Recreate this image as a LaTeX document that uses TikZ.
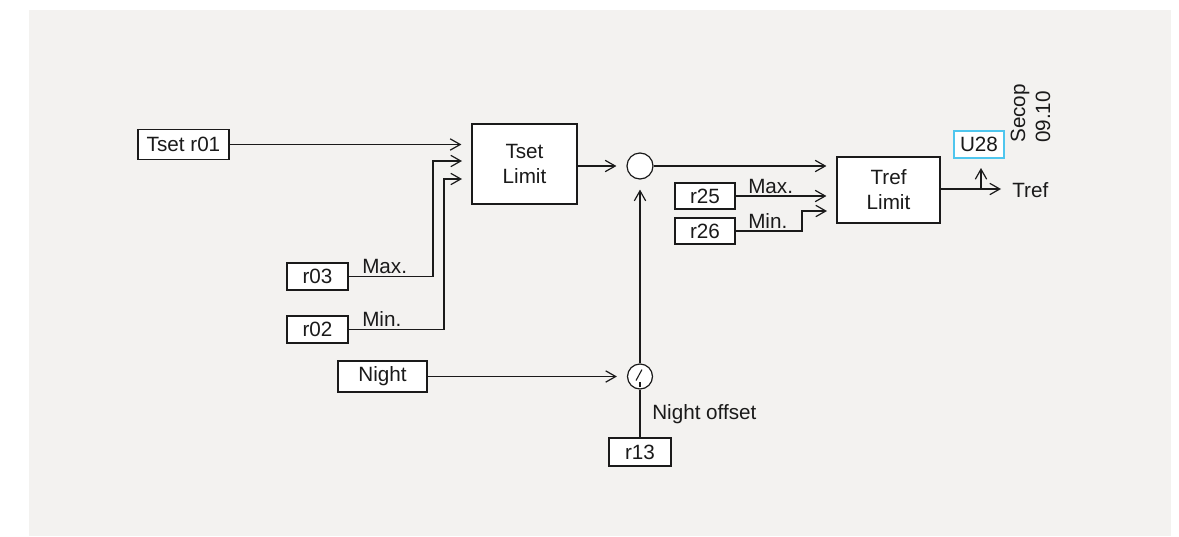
\documentclass[tikz,border=0pt]{standalone}
\usepackage{fontspec}
\setmainfont{Liberation Sans}
\usetikzlibrary{arrows.meta}
\definecolor{bggrey}{HTML}{F3F2F0}
\definecolor{ink}{HTML}{1A1A1A}
\definecolor{cyanedge}{HTML}{4FC6EE}
\begin{document}
\begin{tikzpicture}[x=0.75pt,y=-0.75pt,
  every node/.style={font=\fontsize{15.5}{18.75}\selectfont, text=ink, inner sep=0pt},
  blk/.style={draw=ink, fill=white, line width=0.9pt, align=center},
  junc/.style={draw=ink, fill=white, circle, line width=0.9pt},
  conn/.style={draw=ink, line width=0.9pt},
  arr/.style={conn, -{Straight Barb[length=7.5pt,width=8.5pt,line width=0.9pt]}},
  gap/.style={shorten >=7.5pt},
  lbl/.style={anchor=base west}]
\useasboundingbox (0,0) rectangle (1179,536);
\fill[white] (0,0) rectangle (1179,536);
\fill[bggrey] (29,10) rectangle (1171,536);

% blocks
\node[blk, minimum width=68.25pt, minimum height=22.5pt] (tset) at (183.5,144.5) {Tset r01};
\node[blk, minimum width=78.75pt, minimum height=60pt] (tsetlim) at (524.5,164) {Tset\\Limit};
\node[blk, minimum width=45.75pt, minimum height=20.25pt] (r03) at (317.5,276.5) {r03};
\node[blk, minimum width=45.75pt, minimum height=20.25pt] (r02) at (317.5,329.5) {r02};
\node[blk, minimum width=66.75pt, minimum height=23.25pt] (night) at (382.5,376.5) {Night};
\node[blk, minimum width=46.5pt, minimum height=21pt] (r13) at (640,452) {r13};
\node[blk, minimum width=45pt, minimum height=19.5pt] (r25) at (705,196) {r25};
\node[blk, minimum width=45pt, minimum height=19.5pt] (r26) at (705,231) {r26};
\node[blk, minimum width=77.25pt, minimum height=49.5pt] (treflim) at (888.5,190) {Tref\\Limit};
\node[draw=cyanedge, fill=white, line width=0.8pt, minimum width=37.5pt, minimum height=20.25pt] (u28) at (979,144.5) {U28};

\node[junc, minimum size=19.5pt] (sum) at (640,166) {};
\node[junc, minimum size=18.75pt] (sw) at (640,376.5) {};
\draw[conn, line width=0.8pt] (642,369.5) -- (636,380.5);
\draw[conn, line width=0.8pt] (640,382) -- (640,387);

% helper coordinates
\coordinate (tin2) at (472,161);
\coordinate (tin3) at (472,179);
\coordinate (k1) at (433,0);
\coordinate (k2) at (444,0);
\coordinate (tr3) at (837,211);
\coordinate (k3) at (802,0);
\coordinate (tout) at (1001,189);
\coordinate (ua) at (981,189);
\coordinate (ub) at (981,168);

% connectors
\draw[arr, gap] (tset.east) -- (tset.east -| tsetlim.west);
\draw[arr, gap] (r03.east) -- (r03.east -| k1) |- (tin2);
\draw[arr, gap] (r02.east) -- (r02.east -| k2) |- (tin3);
\draw[arr, gap] (tsetlim.east |- sum) -- (sum.west);
\draw[arr, gap] (sum.east) -- (sum -| treflim.west);
\draw[arr, gap] (r25.east) -- (r25 -| treflim.west);
\draw[arr, gap] (r26.east) -- (r26.east -| k3) |- (tr3);
\draw[arr, gap] (night.east) -- (sw.west);
\draw[arr, gap] (sw.north) -- (sum.south);
\draw[conn] (r13.north) -- (sw.south);
\draw[arr] (treflim.east |- tout) -- (tout);
\draw[arr] (ua) -- (ub);

% labels
\node[lbl] (lmax1) at (362,273) {Max.};
\node[lbl] (lmin1) at (362,326) {Min.};
\node[lbl] (lmax2) at (748,193) {Max.};
\node[lbl] (lmin2) at (748,228) {Min.};
\node[lbl] (lnoff) at (652,419) {Night offset};
\node[anchor=west] (ltref) at (1012,190) {Tref};
\node[rotate=90, anchor=base west] (lsecop) at (1025,143) {Secop};
\node[rotate=90, anchor=base west] (lver) at (1050,143) {09.10};
\end{tikzpicture}
\end{document}
